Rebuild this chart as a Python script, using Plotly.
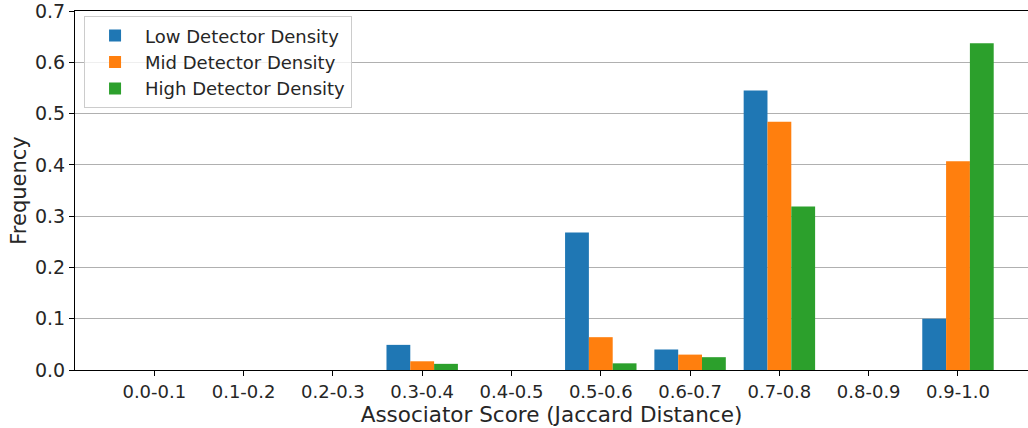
import plotly.graph_objects as go

categories = ["0.0-0.1", "0.1-0.2", "0.2-0.3", "0.3-0.4", "0.4-0.5",
              "0.5-0.6", "0.6-0.7", "0.7-0.8", "0.8-0.9", "0.9-1.0"]
low_density = [0, 0, 0, 0.049, 0, 0.268, 0.040, 0.545, 0, 0.100]
mid_density = [0, 0, 0, 0.017, 0, 0.064, 0.030, 0.484, 0, 0.407]
high_density = [0, 0, 0, 0.012, 0, 0.013, 0.025, 0.319, 0, 0.637]

series = [
    ("Low Detector Density", low_density, "#1f77b4"),
    ("Mid Detector Density", mid_density, "#ff7f0e"),
    ("High Detector Density", high_density, "#2ca02c"),
]

x_idx = list(range(len(categories)))
fig = go.Figure()
for name, vals, color in series:
    fig.add_trace(go.Bar(x=x_idx, y=vals, name=name, marker_color=color,
                         marker_line_width=0))

font = "DejaVu Sans, sans-serif"
fig.update_layout(
    width=1028, height=428,
    margin=dict(l=75, r=0, t=11, b=58, autoexpand=False),
    paper_bgcolor="white", plot_bgcolor="white",
    barmode="group", bargap=0.2, bargroupgap=0,
    font=dict(family=font, size=18, color="#262626"),
    showlegend=True,
    legend=dict(x=0.0095, y=0.985, xanchor="left", yanchor="top",
                bgcolor="rgba(255,255,255,0.8)", bordercolor="#cccccc",
                borderwidth=1, font=dict(size=18, family=font, color="#262626"),
                itemwidth=50, tracegroupgap=0),
)
fig.update_xaxes(
    range=[-0.888, 9.784], tickmode="array", tickvals=x_idx, ticktext=categories,
    showline=True, linecolor="black", linewidth=1.2, mirror=True,
    ticks="outside", ticklen=5, tickcolor="black", showgrid=False, zeroline=False,
    tickfont=dict(size=18), automargin=False,
    title=dict(text="Associator Score (Jaccard Distance)", font=dict(size=21.5), standoff=2),
)
fig.update_yaxes(
    range=[0, 0.7], tickmode="array", tickvals=[0, 0.1, 0.2, 0.3, 0.4, 0.5, 0.6, 0.7],
    tickformat=".1f", ticklabeloverflow="allow",
    showline=True, linecolor="black", linewidth=1.2,
    ticks="outside", ticklen=5, tickcolor="black",
    showgrid=True, gridcolor="#b0b0b0", gridwidth=1, zeroline=False,
    tickfont=dict(size=19), automargin=False,
    title=dict(text="Frequency", font=dict(size=21), standoff=2),
)
fig.write_html("out.html", config={"displayModeBar": False},
               post_script="document.body.style.margin='0';")
